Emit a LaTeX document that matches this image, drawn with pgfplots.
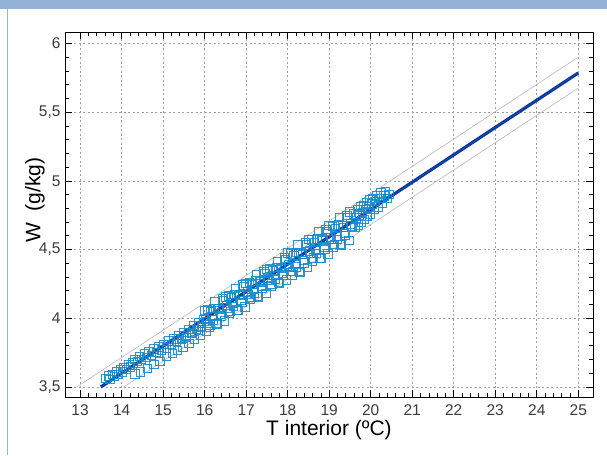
\documentclass[border=0pt]{standalone}
\usepackage{fontspec}
\setmainfont{Liberation Sans}
\usepackage{pgfplots}
\pgfplotsset{compat=1.18}

\definecolor{banner}{RGB}{149,179,215}
\definecolor{sqblue}{RGB}{22,138,205}
\definecolor{fitblue}{RGB}{15,45,195}
\definecolor{ticktext}{RGB}{60,60,60}

\begin{document}
\begin{tikzpicture}
\path[use as bounding box, fill=white] (0,0) rectangle (607pt,455pt);
\fill[banner] (0,446pt) rectangle (607pt,455pt);
\draw[banner, line width=1.5pt] (7.5pt,0) -- (7.5pt,446pt);

\begin{axis}[
    at={(65pt,58pt)}, anchor=south west,
    scale only axis,
    width=528pt, height=365pt,
    xmin=12.636, xmax=25.355,
    ymin=3.427, ymax=6.083,
    xtick={13,14,...,25},
    ytick={3.5,4,4.5,5,5.5,6},
    minor tick num=4,
    tick align=inside,
    major tick length=7pt,
    minor tick length=4pt,
    every tick/.style={black, line width=0.6pt},
    axis line style={black, line width=0.9pt},
    grid=major,
    grid style={gray!75, line width=0.6pt, dash pattern=on 2pt off 2.5pt},
    /pgf/number format/assume math mode=true,
    /pgf/number format/use comma,
    tick label style={font=\fontsize{15.5}{18}\selectfont, text=ticktext},
    xticklabel style={yshift=-4pt},
    yticklabel style={xshift=-1pt},
    xlabel={T interior (ºC)},
    xlabel style={font=\fontsize{21}{25}\selectfont, yshift=2pt},
    ylabel={W\hspace{0.55em}(g/kg)},
    ylabel style={font=\fontsize{21}{25}\selectfont, at={(rel axis cs:-0.057,0.54)}, anchor=center},
]

% prediction limits
\addplot[gray!55, line width=0.6pt] coordinates {(12.92,3.5) (25,5.90)};
\addplot[gray!55, line width=0.6pt] coordinates {(14.05,3.5) (25,5.675)};

% measured points
\addplot[only marks, mark=square, mark size=4.2pt,
    mark options={draw=sqblue, draw opacity=0.9, line width=1pt, fill=none}]
coordinates {
(13.62,3.56) (13.68,3.58) (13.72,3.555) (13.78,3.59) (13.83,3.575) (13.88,3.61)
(13.92,3.59) (13.97,3.625) (14.02,3.61) (14.06,3.64) (14.12,3.625) (14.18,3.66)
(14.22,3.645) (14.27,3.675)
(14.32,3.595) (14.45,3.61) (14.62,3.635) (14.78,3.665) (14.92,3.685) (15.08,3.72)
(15.22,3.745) (15.35,3.765) (15.48,3.79) (15.62,3.815) (15.75,3.845) (15.9,3.875)
(16.05,3.905)
(14.32,3.70) (14.38,3.685) (14.43,3.72) (14.48,3.70) (14.55,3.74) (14.6,3.715)
(14.66,3.755) (14.72,3.73) (14.78,3.775) (14.84,3.75) (14.9,3.79) (14.96,3.77)
(15.02,3.81) (15.08,3.785) (15.14,3.835) (15.2,3.81) (15.26,3.85) (15.32,3.83)
(15.38,3.875) (15.44,3.85) (15.5,3.895) (15.56,3.87) (15.62,3.92) (15.68,3.895)
(15.74,3.945) (15.8,3.92) (15.86,3.965) (15.92,3.94) (15.98,3.99)
(15.55,3.86) (15.7,3.89) (15.85,3.915)
(16.00,4.057) (16.05,3.977) (16.10,3.937) (16.15,4.047) (16.20,3.987) (16.25,4.117)
(16.30,3.957) (16.35,4.067) (16.40,4.016) (16.45,4.126) (16.50,4.156) (16.55,4.076)
(16.60,4.036) (16.65,4.146) (16.70,4.086) (16.75,4.216) (16.80,4.056) (16.85,4.166)
(16.90,4.116) (16.95,4.226) (17.00,4.255) (17.05,4.175) (17.10,4.135) (17.15,4.245)
(17.20,4.185) (17.25,4.315) (17.30,4.155) (17.35,4.265) (17.40,4.215) (17.45,4.325)
(17.50,4.355) (17.55,4.275) (17.60,4.235) (17.65,4.345) (17.70,4.285) (17.75,4.415)
(17.80,4.254) (17.85,4.364) (17.90,4.314) (17.95,4.424)
(16.025,3.992) (16.075,4.062) (16.125,3.952) (16.175,4.012) (16.225,4.072) (16.275,3.962)
(16.325,4.072) (16.375,4.032) (16.425,4.141) (16.475,3.981) (16.525,4.091) (16.575,4.161)
(16.625,4.051) (16.675,4.111) (16.725,4.171) (16.775,4.061) (16.825,4.171) (16.875,4.131)
(16.925,4.241) (16.975,4.081) (17.025,4.190) (17.075,4.260) (17.125,4.150) (17.175,4.210)
(17.225,4.270) (17.275,4.160) (17.325,4.270) (17.375,4.230) (17.425,4.340) (17.475,4.180)
(17.525,4.290) (17.575,4.360) (17.625,4.250) (17.675,4.310) (17.725,4.370) (17.775,4.260)
(17.825,4.369) (17.875,4.329) (17.925,4.439) (17.975,4.279)
(18.00,4.474) (18.05,4.374) (18.10,4.314) (18.15,4.454) (18.20,4.374) (18.25,4.534)
(18.30,4.334) (18.35,4.464) (18.40,4.403) (18.45,4.533) (18.50,4.573) (18.55,4.473)
(18.60,4.413) (18.65,4.553) (18.70,4.473) (18.75,4.633) (18.80,4.433) (18.85,4.563)
(18.90,4.503) (18.95,4.633) (19.00,4.673) (19.05,4.573) (19.10,4.513) (19.15,4.653)
(19.20,4.573) (19.25,4.733) (19.30,4.532) (19.35,4.662) (19.40,4.602) (19.45,4.732)
(19.50,4.772) (19.55,4.672)
(18.025,4.389) (18.075,4.469) (18.125,4.339) (18.175,4.399) (18.225,4.479) (18.275,4.339)
(18.325,4.479) (18.375,4.419) (18.425,4.548) (18.475,4.368) (18.525,4.488) (18.575,4.568)
(18.625,4.438) (18.675,4.498) (18.725,4.578) (18.775,4.438) (18.825,4.578) (18.875,4.518)
(18.925,4.648) (18.975,4.468) (19.025,4.588) (19.075,4.668) (19.125,4.538) (19.175,4.598)
(19.225,4.678) (19.275,4.537) (19.325,4.677) (19.375,4.617) (19.425,4.747) (19.475,4.567)
(19.525,4.687)
(19.60,4.76) (19.62,4.66) (19.65,4.73) (19.68,4.79) (19.70,4.68) (19.73,4.75)
(19.75,4.81) (19.78,4.70) (19.80,4.77) (19.83,4.82) (19.85,4.72) (19.88,4.79)
(19.90,4.84) (19.93,4.74) (19.95,4.81) (19.98,4.86) (20.00,4.76) (20.03,4.83)
(20.06,4.87) (20.08,4.79) (20.12,4.85) (20.15,4.89) (20.18,4.81) (20.22,4.87)
(20.25,4.91) (20.28,4.84) (20.32,4.89) (20.36,4.92) (20.40,4.87) (20.44,4.90)
};

% fitted model
\addplot[fitblue, line width=3.2pt] coordinates {
(13.5,3.5) (15,3.798) (17,4.195) (19,4.593) (21,4.99) (23,5.388) (25,5.785)
};
\addplot[green!55!black, line width=0.35pt] coordinates {
(13.5,3.5) (15,3.798) (17,4.195) (19,4.593) (21,4.99) (23,5.388) (25,5.785)
};

\end{axis}
\end{tikzpicture}
\end{document}
